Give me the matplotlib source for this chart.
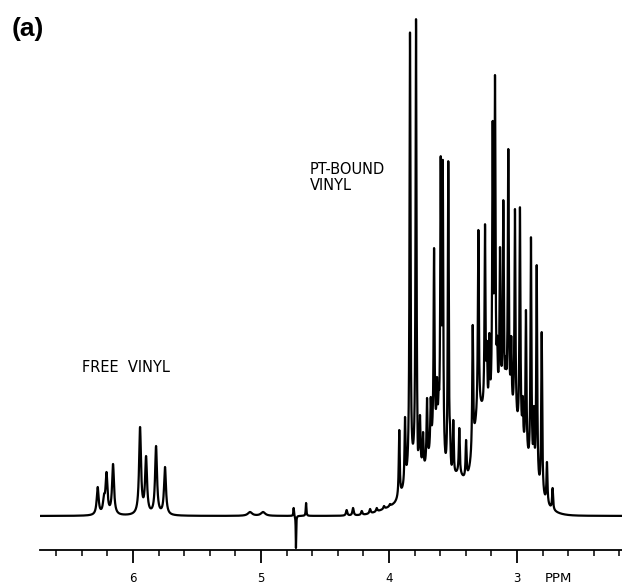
import numpy as np
import matplotlib
matplotlib.use("Agg")
import matplotlib.pyplot as plt

# ---------------- data ----------------
# chemical shift (ppm), observed peak-top height (arbitrary units above baseline), line half-width (ppm)
peak_ppm = [6.276, 6.227, 6.207, 6.156, 5.945, 5.898, 5.820, 5.750,
            5.086, 4.984, 4.745, 4.727, 4.648,
            4.331, 4.281, 4.213, 4.148, 4.096, 4.039, 3.992, 3.955,
            3.920, 3.875, 3.836, 3.789, 3.758, 3.734, 3.703, 3.674, 3.648, 3.625,
            3.596, 3.580, 3.537, 3.523, 3.498, 3.451, 3.398, 3.346, 3.302, 3.250,
            3.216, 3.190, 3.172, 3.133, 3.107, 3.068, 3.045, 3.016, 2.977, 2.930,
            2.891, 2.846, 2.807, 2.766, 2.722,
            3.855, 3.775, 3.612, 3.235, 3.155, 3.088, 2.955, 2.868]
peak_height = [29, 22, 44, 52, 89, 60, 70, 49,
               4, 4, 8, -32, 13,
               6, 8, 5, 7, 8, 10, 12, 14,
               86, 99, 484, 497, 101, 84, 118, 119, 268, 139,
               360, 356, 355, 91, 96, 88, 76, 191, 286, 292,
               183, 395, 441, 269, 316, 367, 180, 307, 309, 206,
               279, 251, 184, 54, 28,
               60, 70, 130, 175, 180, 160, 120, 110]
peak_width = ([0.009] * 8 + [0.02, 0.02, 0.003, 0.002, 0.003] + [0.006] * 8
              + [0.0045] * 35 + [0.004] * 8)

# broad envelope under the multiplets: centre (ppm), height, sigma (ppm)
env_ppm = [3.95, 3.78, 3.63, 3.47, 3.30, 3.12]
env_height = [8, 38, 62, 28, 42, 105]
env_sigma = [0.12, 0.08, 0.05, 0.05, 0.04, 0.16]

major_ticks = [6, 5, 4, 3]
tick_labels = ["6", "5", "4", "3"]

# ---------------- build trace ----------------
x = np.linspace(6.73, 2.17, 14000)
c = np.array(peak_ppm)
h = np.array(peak_height, float)
w = np.array(peak_width)
ec, eh, es = map(np.array, (env_ppm, env_height, env_sigma))

def env(p):
    p = np.atleast_1d(p)
    return (eh[None, :] * np.exp(-0.5 * ((p[:, None] - ec[None, :]) / es[None, :]) ** 2)).sum(1)

def lor(p, cc, ww):
    return ww ** 2 / ((p - cc) ** 2 + ww ** 2)

# solve amplitudes so that peak tops equal the observed heights
M = lor(c[:, None], c[None, :], w[None, :])
amp = np.linalg.solve(M, h - env(c))
y = env(x) + (amp[None, :] * lor(x[:, None], c[None, :], w[None, :])).sum(1)

# ---------------- figure ----------------
W, H = 622, 585
fig = plt.figure(figsize=(W / 100, H / 100), dpi=100)
ax = fig.add_axes([40 / W, 35 / H, 582 / W, 540 / H])
ax.plot(x, y, color="black", lw=1.6, solid_joinstyle="round")
ax.set_xlim(6.7266, 2.1797)
ax.set_ylim(-34, 506)

for s in ("left", "right", "top"):
    ax.spines[s].set_visible(False)
ax.spines["bottom"].set_linewidth(1.3)
ax.set_yticks([])
ax.set_xticks(major_ticks)
ax.set_xticklabels(tick_labels)
ax.set_xticks(np.arange(2.2, 6.75, 0.2), minor=True)
ax.tick_params(axis="x", which="major", direction="out", length=9, width=1.3,
               pad=7, labelsize=8.5)
ax.tick_params(axis="x", which="minor", direction="out", length=4, width=1.1)

def px(xp, yp):
    return fig.transFigure.inverted().transform(
        fig.dpi_scale_trans.transform((xp / 100, (H - yp) / 100)))

fig.text(*px(545, 578), "PPM", fontsize=9.5, va="center", ha="left")
fig.text(*px(12, 29), "(a)", fontsize=19, fontweight="bold",
         family="Liberation Sans", va="center", ha="left")
fig.text(*px(310, 170), "PT-BOUND", fontsize=10.5, va="center", ha="left")
fig.text(*px(310, 185), "VINYL", fontsize=10.5, va="center", ha="left")
fig.text(*px(82, 367), "FREE  VINYL", fontsize=10.5, va="center", ha="left")

fig.savefig("out.png", dpi=100)
